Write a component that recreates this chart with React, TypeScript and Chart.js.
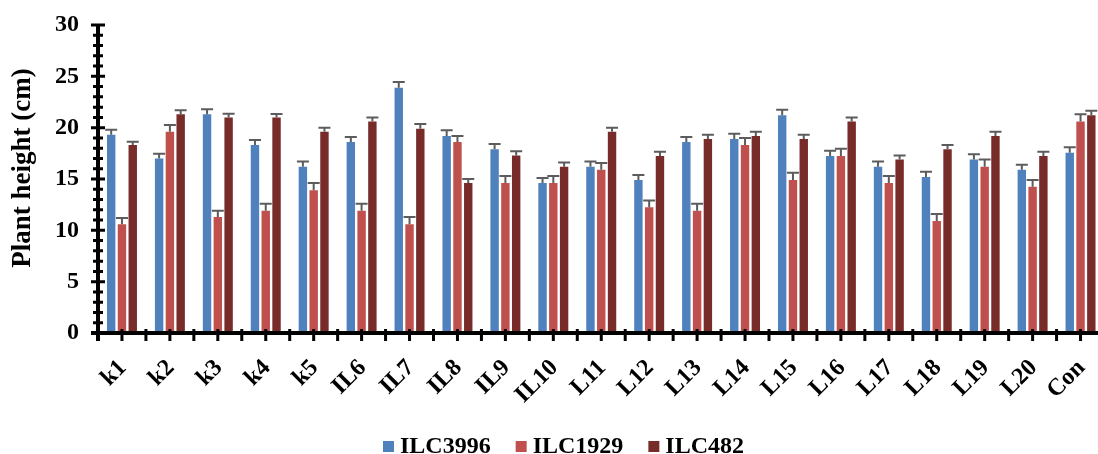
import React, { useEffect, useRef } from "react";
import { Chart, registerables } from "chart.js";

Chart.register(...registerables);

const categories = ["k1", "k2", "k3", "k4", "k5", "IL6", "IL7", "IL8", "IL9", "IL10", "L11", "L12", "L13", "L14", "L15", "L16", "L17", "L18", "L19", "L20", "Con"];
const seriesNames = ["ILC3996", "ILC1929", "ILC482"];
const seriesColors = ["#4F81BD", "#C0504D", "#772C2A"];

const ilc3996 = [19.3, 17.0, 21.3, 18.3, 16.2, 18.6, 23.9, 19.2, 17.9, 14.6, 16.2, 14.9, 18.6, 18.9, 21.2, 17.25, 16.2, 15.2, 16.9, 15.9, 17.55];
const ilc1929 = [10.6, 19.6, 11.3, 11.9, 13.9, 11.9, 10.6, 18.6, 14.6, 14.6, 15.9, 12.25, 11.9, 18.3, 14.9, 17.25, 14.6, 10.9, 16.2, 14.25, 20.6];
const ilc482 = [18.3, 21.3, 21.0, 21.0, 19.6, 20.6, 19.9, 14.6, 17.3, 16.2, 19.6, 17.25, 18.9, 19.2, 18.9, 20.6, 16.9, 17.9, 19.2, 17.25, 21.2];

const err3996 = [0.5, 0.45, 0.5, 0.5, 0.5, 0.5, 0.55, 0.55, 0.5, 0.5, 0.5, 0.5, 0.5, 0.5, 0.55, 0.5, 0.5, 0.5, 0.5, 0.5, 0.55];
const err1929 = [0.6, 0.65, 0.6, 0.7, 0.7, 0.7, 0.7, 0.6, 0.7, 0.7, 0.65, 0.65, 0.7, 0.7, 0.7, 0.7, 0.7, 0.7, 0.7, 0.65, 0.7];
const err482 = [0.33, 0.4, 0.36, 0.33, 0.4, 0.4, 0.45, 0.4, 0.4, 0.4, 0.4, 0.4, 0.4, 0.4, 0.4, 0.4, 0.4, 0.4, 0.4, 0.4, 0.45];

const yMin = 0;
const yMax = 30;
const yStep = 5;
const yMinorStep = 1;
const yTitle = "Plant height (cm)";

const FONT = "'Liberation Serif', 'Times New Roman', serif";

const customPlugin = {
  id: "customDraw",
  afterDatasetsDraw(chart: any) {
    const ctx = chart.ctx;
    const ys = chart.scales.y;
    const errs = [err3996, err1929, err482];
    ctx.save();
    ctx.strokeStyle = "#5c5c5c";
    ctx.lineWidth = 2;
    chart.data.datasets.forEach((ds: any, i: number) => {
      const meta = chart.getDatasetMeta(i);
      meta.data.forEach((el: any, j: number) => {
        const v = ds.data[j] as number;
        const top = ys.getPixelForValue(v + errs[i][j]);
        ctx.beginPath();
        ctx.moveTo(el.x, el.y);
        ctx.lineTo(el.x, top);
        ctx.moveTo(el.x - 6, top);
        ctx.lineTo(el.x + 6, top);
        ctx.stroke();
      });
    });
    ctx.restore();
  },
  afterDraw(chart: any) {
    const ctx = chart.ctx;
    const { left, right, top, bottom } = chart.chartArea;
    const xs = chart.scales.x;
    const ys = chart.scales.y;
    ctx.save();
    ctx.strokeStyle = "#000";
    ctx.fillStyle = "#000";
    // axis lines
    ctx.lineWidth = 4;
    ctx.beginPath();
    ctx.moveTo(left, top - 1);
    ctx.lineTo(left, bottom + 8);
    ctx.moveTo(left - 7, bottom);
    ctx.lineTo(right + 2, bottom);
    ctx.stroke();
    // y ticks
    ctx.lineWidth = 3;
    ctx.beginPath();
    for (let v = yMin; v <= yMax; v += yMinorStep) {
      const py = ys.getPixelForValue(v);
      const half = v % yStep === 0 ? 7 : 5;
      ctx.moveTo(left - half, py);
      ctx.lineTo(left + half, py);
    }
    ctx.stroke();
    // x ticks (boundaries and centres)
    const c0 = xs.getPixelForValue(0);
    const c1 = xs.getPixelForValue(1);
    const halfCat = (c1 - c0) / 2;
    ctx.beginPath();
    for (let k = 0; k <= categories.length * 2; k++) {
      const px = c0 - halfCat + k * halfCat;
      ctx.moveTo(px, bottom - 4);
      ctx.lineTo(px, bottom + 8);
    }
    ctx.stroke();
    // y title
    ctx.save();
    ctx.translate(23, 168);
    ctx.rotate(-Math.PI / 2);
    ctx.font = `bold 27px ${FONT}`;
    ctx.textAlign = "center";
    ctx.textBaseline = "middle";
    ctx.fillText(yTitle, 0, 0);
    ctx.restore();
    // legend
    ctx.font = `bold 24px ${FONT}`;
    ctx.textAlign = "left";
    ctx.textBaseline = "alphabetic";
    let lx = 383;
    seriesNames.forEach((name, i) => {
      ctx.fillStyle = seriesColors[i];
      ctx.fillRect(lx, 441, 11, 11);
      ctx.fillStyle = "#000";
      ctx.fillText(name, lx + 17, 452.5);
      lx += 17 + ctx.measureText(name).width + 25;
    });
    ctx.restore();
  },
};

export default function App() {
  const ref = useRef<HTMLCanvasElement | null>(null);
  useEffect(() => {
    if (!ref.current) return;
    const chart = new Chart(ref.current, {
      type: "bar",
      data: {
        labels: categories,
        datasets: [
          { label: seriesNames[0], data: ilc3996, backgroundColor: seriesColors[0] },
          { label: seriesNames[1], data: ilc1929, backgroundColor: seriesColors[1] },
          { label: seriesNames[2], data: ilc482, backgroundColor: seriesColors[2] },
        ],
      },
      options: {
        responsive: false,
        animation: false,
        layout: { padding: { left: 0, right: 1.5, top: 25, bottom: 0 } },
        datasets: {
          bar: { categoryPercentage: 0.675, barPercentage: 0.78 },
        },
        plugins: {
          legend: { display: false },
          tooltip: { enabled: false },
        },
        scales: {
          x: {
            grid: { display: false, drawTicks: false },
            border: { display: false },
            ticks: {
              color: "#000",
              font: { family: FONT, size: 24, weight: "bold" },
              maxRotation: 45,
              minRotation: 45,
              padding: 21,
              labelOffset: 1,
              autoSkip: false,
            },
            afterFit: (s: any) => {
              s.height = 121;
              s.paddingLeft = 0;
              s.paddingRight = 0;
            },
          },
          y: {
            min: yMin,
            max: yMax,
            grid: { display: false, drawTicks: false },
            border: { display: false },
            ticks: {
              stepSize: yStep,
              color: "#000",
              font: { family: FONT, size: 24, weight: "bold" },
              padding: 19,
            },
            afterFit: (s: any) => {
              s.width = 98;
              s.paddingTop = 0;
              s.paddingBottom = 0;
            },
          },
        },
      },
      plugins: [customPlugin],
    });
    return () => chart.destroy();
  }, []);
  return (
    <div style={{ position: "fixed", left: 0, top: 0, width: 1098, height: 454, overflow: "hidden", background: "#fff" }}>
      <canvas ref={ref} width={1106} height={454} style={{ width: 1106, height: 454, display: "block" }} />
    </div>
  );
}
